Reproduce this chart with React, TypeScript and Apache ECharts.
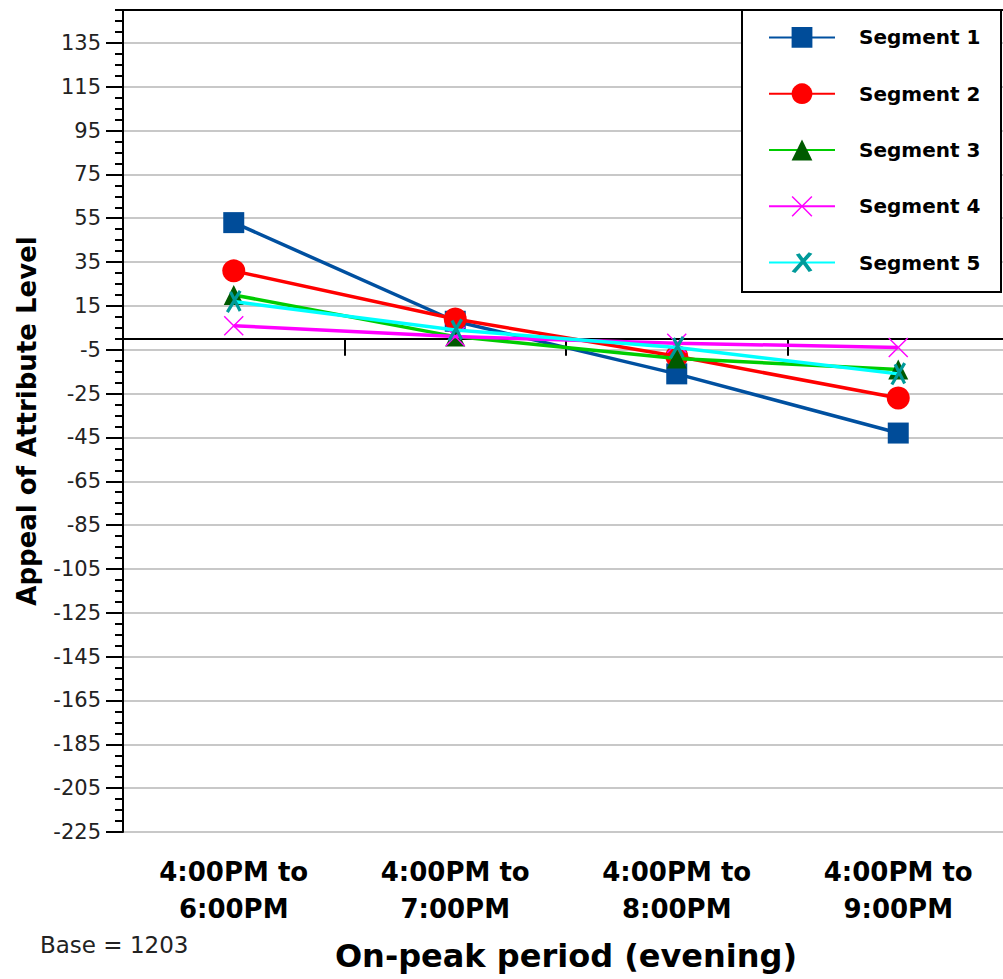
import React, { useEffect, useRef } from "react";
import * as echarts from "echarts";

const categories = [
  "4:00PM to\n6:00PM",
  "4:00PM to\n7:00PM",
  "4:00PM to\n8:00PM",
  "4:00PM to\n9:00PM",
];
const segmentNames = ["Segment 1", "Segment 2", "Segment 3", "Segment 4", "Segment 5"];
const segment1 = [53, 8, -16, -43];
const segment2 = [31, 9, -8, -27];
const segment3 = [20, 1, -9, -14];
const segment4 = [6, 1, -2, -4];
const segment5 = [17, 4, -4, -16];
const yTickValues = [
  -225, -205, -185, -165, -145, -125, -105, -85, -65, -45, -25, -5, 15, 35, 55, 75, 95, 115, 135,
];
const yMin = -225;
const yMax = 150;
const baseNote = "Base = 1203";
const xTitle = "On-peak period (evening)";
const yTitle = "Appeal of Attribute Level";

const X_THIN = "path://M0,1 L1,0 L10,9 L19,0 L20,1 L11,10 L20,19 L19,20 L10,11 L1,20 L0,19 L9,10 Z";
const X_STAR =
  "path://M1.7,19.2 L13.7,-0.8 L16.3,0.8 L4.3,20.8 Z M7.3,0.3 L16.3,18.3 L13.7,19.7 L4.7,1.7 Z";

export default function App() {
  const ref = useRef<HTMLDivElement>(null);
  useEffect(() => {
    if (!ref.current) return;
    const chart = echarts.init(ref.current, undefined, { renderer: "svg" });
    const font = '"DejaVu Sans", Verdana, sans-serif';
    const values = [segment1, segment2, segment3, segment4, segment5];
    const styles = [
      { line: "#0050a0", marker: "#004c99", symbol: "rect", size: 21 },
      { line: "#ff0000", marker: "#ff0000", symbol: "circle", size: 23 },
      { line: "#00cc00", marker: "#005a00", symbol: "triangle", size: 20 },
      { line: "#ff00ff", marker: "#ff00ff", symbol: X_THIN, size: 20 },
      { line: "#00ffff", marker: "#009a9a", symbol: X_STAR, size: 23 },
    ];
    const series = values.map((d, i) => ({
      name: segmentNames[i],
      type: "line",
      data: d,
      xAxisIndex: 0,
      yAxisIndex: 0,
      symbol: styles[i].symbol,
      symbolSize: styles[i].size,
      symbolKeepAspect: true,
      showAllSymbol: true,
      lineStyle: { color: styles[i].line, width: 3.5 },
      itemStyle: { color: styles[i].marker },
      emphasis: { disabled: true },
      z: 3 + i,
    }));
    chart.setOption({
      animation: false,
      backgroundColor: "#ffffff",
      grid: {
        left: 123,
        top: 10,
        width: 886,
        height: 822,
        containLabel: false,
        outerBoundsMode: "none",
      },
      legend: {
        orient: "vertical",
        left: 742,
        top: 10,
        padding: [17, 0, 15, 26],
        itemWidth: 66,
        itemHeight: 26,
        itemGap: 35.5,
        z: 10,
        data: segmentNames,
        selectedMode: false,
        textStyle: {
          fontFamily: font,
          fontWeight: "bold",
          fontSize: 20,
          color: "#000",
          padding: [0, 0, 0, 19],
        },
      },
      xAxis: [
        {
          type: "category",
          data: categories,
          position: "bottom",
          boundaryGap: true,
          axisLine: { show: true, onZero: true, lineStyle: { color: "#000", width: 2 } },
          axisTick: { show: true, length: 17, lineStyle: { color: "#000", width: 2 } },
          axisLabel: { show: false },
          splitLine: { show: false },
        },
        {
          type: "category",
          data: categories,
          position: "bottom",
          boundaryGap: true,
          axisLine: { show: false, onZero: false },
          axisTick: { show: false },
          splitLine: { show: false },
          axisLabel: {
            show: true,
            margin: 21,
            fontFamily: font,
            fontWeight: "bold",
            fontSize: 26,
            lineHeight: 37,
            color: "#000",
            interval: 0,
          },
          name: xTitle,
          nameLocation: "middle",
          nameGap: 108,
          nameTextStyle: { fontFamily: font, fontWeight: "bold", fontSize: 32, color: "#000" },
        },
        {
          type: "category",
          data: categories,
          position: "top",
          axisLine: { show: true, onZero: false, lineStyle: { color: "#000", width: 2 } },
          axisTick: { show: false },
          axisLabel: { show: false },
          splitLine: { show: false },
        },
      ],
      yAxis: [
        {
          type: "value",
          min: yMin,
          max: yMax,
          position: "left",
          axisLine: { show: true, onZero: false, lineStyle: { color: "#000", width: 2 } },
          axisTick: {
            show: true,
            length: 17,
            customValues: yTickValues,
            lineStyle: { color: "#000", width: 2 },
          },
          axisLabel: {
            show: true,
            customValues: yTickValues,
            margin: 22,
            fontFamily: font,
            fontSize: 21,
            color: "#222",
          },
          splitLine: { show: true, lineStyle: { color: "#c8c8c8", width: 2 } },
          name: yTitle,
          nameLocation: "middle",
          nameRotate: 90,
          nameGap: 83,
          nameTextStyle: { fontFamily: font, fontWeight: "bold", fontSize: 26, color: "#000" },
        },
        {
          type: "value",
          min: yMin,
          max: yMax,
          interval: 5,
          position: "left",
          axisLine: { show: false, onZero: false },
          axisTick: { show: true, length: 8, lineStyle: { color: "#000", width: 2 } },
          axisLabel: { show: false },
          splitLine: { show: false },
        },
      ],
      graphic: [
        {
          type: "rect",
          z: 6,
          shape: { x: 742, y: 10, width: 259, height: 282 },
          style: { fill: "#ffffff", stroke: "#000000", lineWidth: 2 },
        },
        {
          type: "text",
          x: 40,
          y: 945,
          style: {
            text: baseNote,
            fontFamily: font,
            fontSize: 23,
            fill: "#222",
            verticalAlign: "middle",
          },
        },
      ],
      series,
    });
    return () => chart.dispose();
  }, []);
  return (
    <div
      ref={ref}
      style={{ position: "fixed", left: 0, top: 0, width: 1003, height: 979 }}
    />
  );
}
